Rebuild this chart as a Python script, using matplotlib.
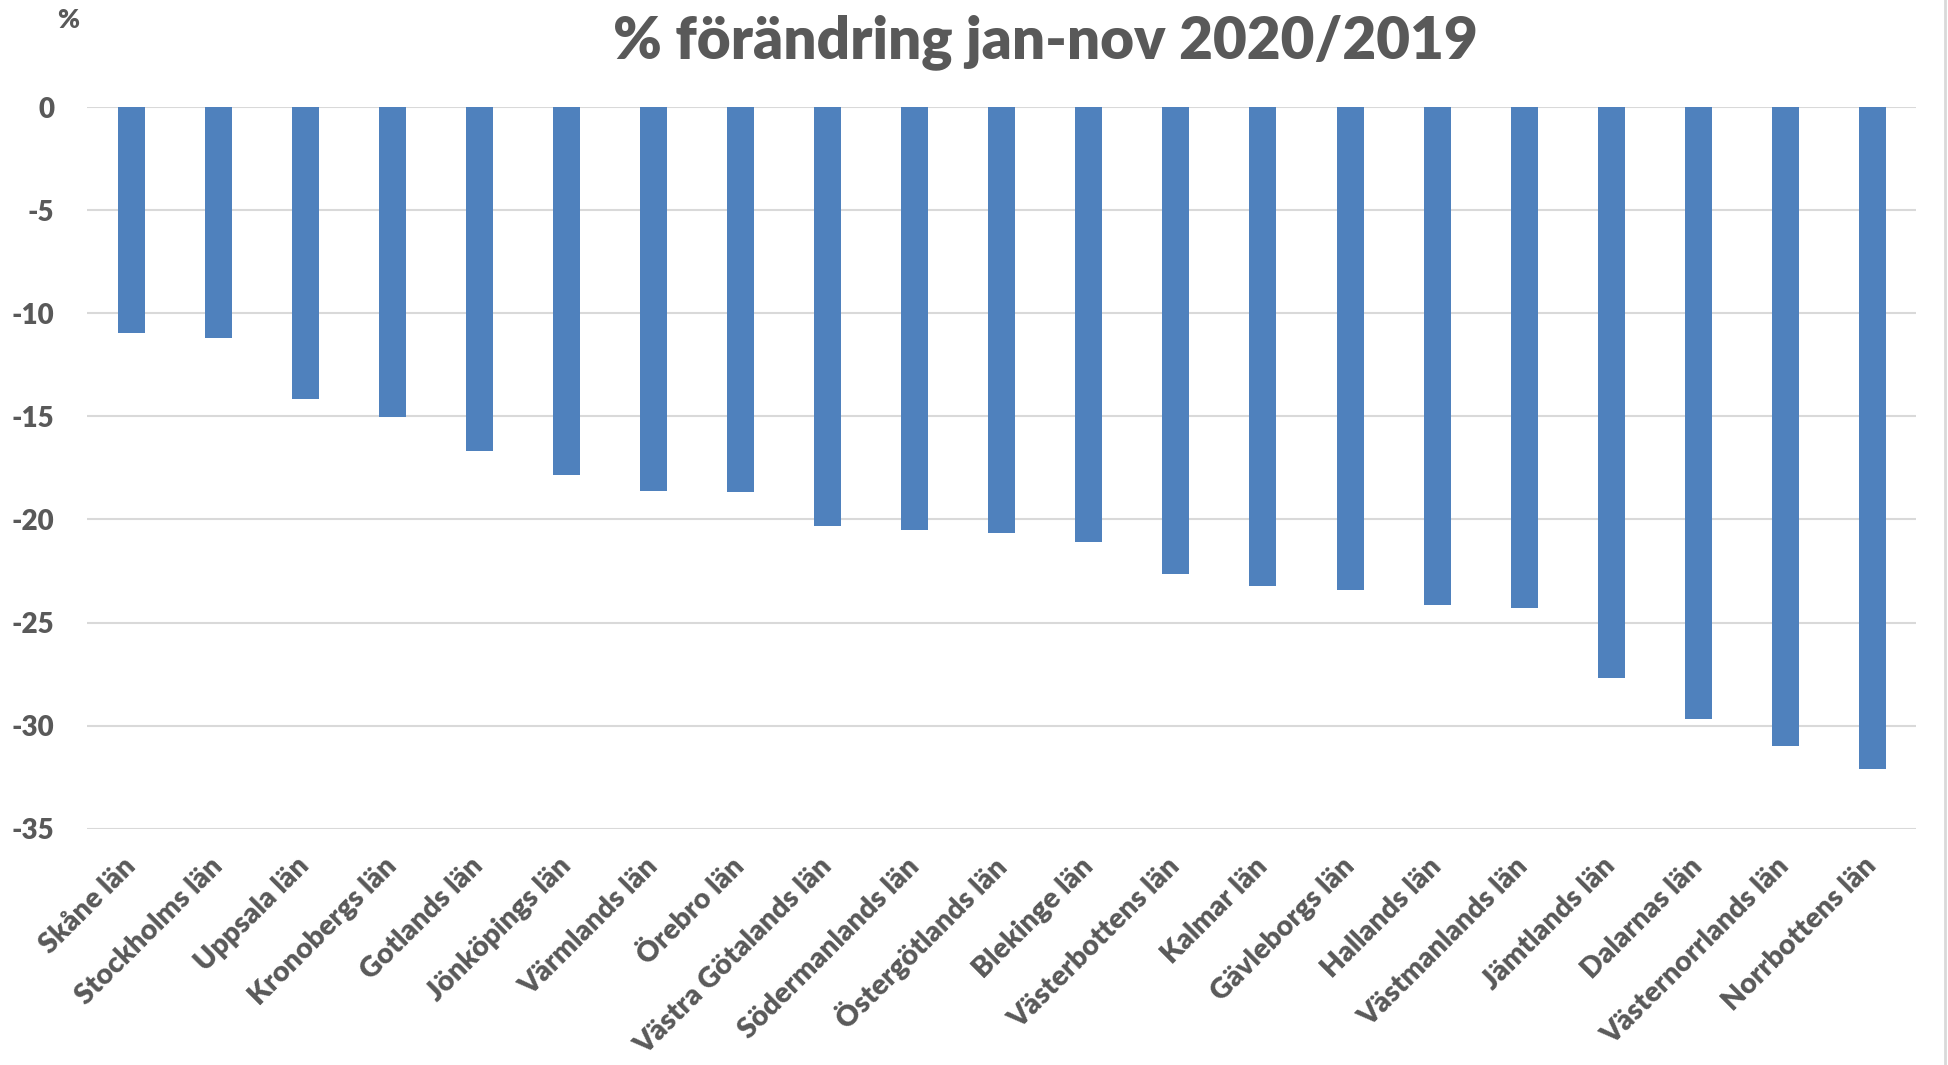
import matplotlib
matplotlib.use("Agg")
import matplotlib.pyplot as plt
from matplotlib.lines import Line2D

counties = ["Skåne län", "Stockholms län", "Uppsala län", "Kronobergs län", "Gotlands län",
            "Jönköpings län", "Värmlands län", "Örebro län", "Västra Götalands län",
            "Södermanlands län", "Östergötlands län", "Blekinge län", "Västerbottens län",
            "Kalmar län", "Gävleborgs län", "Hallands län", "Västmanlands län", "Jämtlands län",
            "Dalarnas län", "Västernorrlands län", "Norrbottens län"]
change = [-10.94, -11.18, -14.16, -15.05, -16.67, -17.83, -18.64, -18.67, -20.34, -20.52,
          -20.65, -21.12, -22.64, -23.22, -23.43, -24.17, -24.30, -27.70, -29.66, -30.97, -32.12]
yticks = [0, -5, -10, -15, -20, -25, -30, -35]

TXT = "#595959"
BAR = "#4F81BD"
GRID = "#D9D9D9"
plt.rcParams['font.family'] = ['Lato', 'DejaVu Sans']

W, H = 1949, 1065
fig = plt.figure(figsize=(W / 100, H / 100), dpi=100)
ax = fig.add_axes([87.5 / W, 1 - 828.7 / H, (1916 - 87.5) / W, (828.7 - 107) / H])

x = list(range(len(counties)))
ax.bar(x, change, width=0.31, color=BAR, zorder=3)
ax.set_xlim(-0.5, len(counties) - 0.5)
ax.set_ylim(-35, 0)
ax.set_yticks(yticks)
ax.set_yticklabels([str(v) for v in yticks], fontsize=20, fontweight='heavy', color=TXT)
ax.set_xticks(x)
ax.set_xticklabels(counties, rotation=45, ha='right', va='center', rotation_mode='anchor',
                   fontsize=20.5, fontweight='heavy', color=TXT)
ax.tick_params(axis='both', length=0)
ax.tick_params(axis='y', pad=24)
ax.tick_params(axis='x', pad=24)
ax.grid(axis='y', color=GRID, linewidth=1.5, zorder=0)
for s in ax.spines.values():
    s.set_visible(False)

fig.text(1045 / W, 1 - 58 / H, "% förändring jan-nov 2020/2019", ha='center', va='baseline',
         fontsize=42, fontweight='heavy', color=TXT)
fig.text(68 / W, 1 - 20 / H, "%", ha='center', va='center', fontsize=19, fontweight='heavy', color=TXT)
fig.add_artist(Line2D([1945.5 / W, 1945.5 / W], [0, 1], color=GRID, linewidth=2, transform=fig.transFigure))

fig.savefig("out.png", dpi=100, facecolor='white')
